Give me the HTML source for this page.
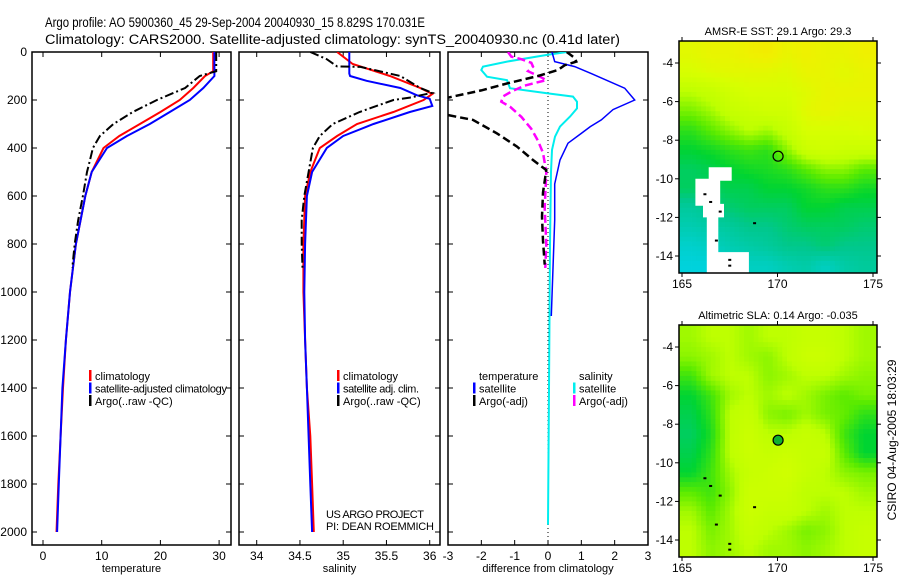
<!DOCTYPE html>
<html><head><meta charset="utf-8"><style>
html,body{margin:0;padding:0;background:#fff;}
svg{display:block;font-family:"Liberation Sans",sans-serif;}
</style></head><body>
<svg id="fig" width="900" height="580" viewBox="0 0 900 580" xmlns="http://www.w3.org/2000/svg">
<text x="45" y="27" font-size="13.5" textLength="380" lengthAdjust="spacingAndGlyphs">Argo profile: AO 5900360_45 29-Sep-2004 20040930_15 8.829S 170.031E</text>
<text x="45" y="44" font-size="13.5" textLength="575" lengthAdjust="spacingAndGlyphs">Climatology: CARS2000. Satellite-adjusted climatology: synTS_20040930.nc (0.41d later)</text>
<g id="g"></g>
</svg>
<script>
// ---------- data ----------
const tClimDepth=[0,80,100,150,200,250,300,350,400,500,600,800,1000,1200,1400,1600,1800,2000];
const tClimVal=[29.0,29.0,27.6,25.6,23.3,20.0,16.5,13.0,10.3,8.3,7.2,5.6,4.6,3.9,3.4,3.0,2.6,2.3];
const tSatDepth=[0,100,150,200,250,300,350,400,500,600,800,1000,1200,1400,1600,1800,2000];
const tSatVal=[29.2,29.2,27.3,25.0,21.6,18.2,14.3,10.9,8.3,7.2,5.6,4.6,3.9,3.3,3.0,2.7,2.4];
const tArgoDepth=[0,80,100,150,200,250,300,350,400,450,500,600,700,800,900];
const tArgoVal=[29.5,29.5,26.7,24.2,19.4,15.3,12.0,9.7,8.5,8.0,7.5,6.8,6.0,5.4,5.0];

const sClimDepth=[0,50,100,150,175,200,250,300,350,400,500,600,800,1000,1200,1400,1600,1800,2000];
const sClimVal=[34.93,35.11,35.54,35.89,36.03,35.93,35.58,35.16,34.93,34.73,34.62,34.56,34.54,34.54,34.56,34.58,34.62,34.64,34.66];
const sSatDepth=[0,90,100,120,150,180,195,225,250,300,350,400,500,600,800,1000,1200,1400,1600,1800,2000];
const sSatVal=[35.07,35.07,35.08,35.27,35.66,35.85,36.0,36.03,35.77,35.35,35.0,34.81,34.64,34.58,34.56,34.55,34.56,34.58,34.6,34.62,34.64];
const sArgoDepth=[0,30,60,62,100,150,170,190,200,250,300,350,400,500,600,700,800,900];
const sArgoVal=[34.62,34.81,34.93,35.2,35.66,35.89,36.03,35.77,35.58,35.19,34.88,34.73,34.65,34.6,34.55,34.52,34.52,34.53];

const dTSatDepth=[0,40,61,90,151,200,240,283,311,339,380,450,550,700,900,1100];
const dTSatVal=[0.12,0.2,0.8,1.3,2.3,2.6,1.95,1.6,1.27,1.0,0.6,0.36,0.2,0.2,0.15,0.1];
const dTArgoDepth=[0,25,40,55,75,100,130,160,190,230,263,283,339,394,450,492,586,686,786,886];
const dTArgoVal=[0.56,0.8,0.85,0.5,0.3,-0.3,-1.2,-2.0,-3.0,-3.4,-3.0,-2.25,-1.53,-0.93,-0.45,-0.05,-0.15,-0.18,-0.15,-0.1];
const dSSatDepth=[0,12,40,61,75,103,117,151,172,186,207,235,269,311,353,408,500,800,1400,1970];
const dSSatVal=[0.57,-0.03,-1.23,-1.95,-2.0,-1.83,-1.23,-1.14,-0.03,0.75,0.87,0.87,0.66,0.36,0.21,0.12,0.09,0.06,0.03,0.0];
const dSArgoDepth=[0,19,30,45,61,80,103,117,140,165,185,207,228,270,320,370,420,500,650,800,900];
const dSArgoVal=[-1.2,-1.1,-0.8,-0.5,-0.45,-0.6,-0.24,-0.05,-0.7,-1.1,-1.35,-1.4,-1.14,-0.8,-0.5,-0.3,-0.15,-0.05,-0.1,-0.05,-0.08];

const depthTicks=[0,200,400,600,800,1000,1200,1400,1600,1800,2000];
const tTicks=[0,10,20,30];
const sTicks=[34,34.5,35,35.5,36];
const sTickLabels=["34","34.5","35","35.5","36"];
const dTicks=[-3,-2,-1,0,1,2,3];

const sstGrid=[
[0.88,0.9,0.9,0.92,0.93,0.9,0.92,0.9,0.9,0.92],
[0.85,0.87,0.88,0.88,0.88,0.87,0.9,0.9,0.88,0.9],
[0.75,0.78,0.82,0.85,0.85,0.85,0.87,0.9,0.9,0.9],
[0.68,0.72,0.78,0.8,0.82,0.82,0.88,0.9,0.88,0.88],
[0.6,0.65,0.7,0.75,0.72,0.78,0.85,0.85,0.85,0.86],
[0.55,0.57,0.6,0.62,0.6,0.7,0.8,0.82,0.8,0.8],
[0.5,0.52,0.55,0.57,0.58,0.6,0.65,0.7,0.7,0.65],
[0.5,0.5,0.52,0.52,0.55,0.55,0.57,0.6,0.6,0.57],
[0.42,0.45,0.48,0.5,0.5,0.5,0.55,0.55,0.52,0.52],
[0.38,0.4,0.42,0.45,0.45,0.48,0.5,0.5,0.5,0.48],
[0.33,0.35,0.38,0.4,0.42,0.45,0.45,0.48,0.45,0.45],
[0.3,0.3,0.33,0.35,0.35,0.38,0.4,0.35,0.4,0.42]];
const slaGrid=[
[0.72,0.75,0.75,0.72,0.75,0.75,0.78,0.78,0.75,0.72],
[0.7,0.72,0.75,0.72,0.7,0.75,0.8,0.8,0.75,0.72],
[0.62,0.72,0.75,0.75,0.7,0.72,0.75,0.75,0.72,0.7],
[0.55,0.62,0.72,0.75,0.72,0.75,0.72,0.68,0.65,0.68],
[0.52,0.6,0.75,0.78,0.7,0.68,0.72,0.68,0.66,0.6],
[0.5,0.58,0.75,0.8,0.75,0.75,0.78,0.75,0.62,0.55],
[0.52,0.6,0.75,0.8,0.78,0.8,0.78,0.78,0.65,0.55],
[0.55,0.62,0.72,0.78,0.8,0.82,0.78,0.75,0.7,0.68],
[0.65,0.62,0.7,0.8,0.8,0.8,0.75,0.75,0.75,0.72],
[0.72,0.65,0.72,0.8,0.78,0.78,0.75,0.72,0.75,0.75],
[0.75,0.68,0.72,0.78,0.75,0.72,0.68,0.7,0.75,0.78],
[0.75,0.7,0.72,0.75,0.72,0.72,0.7,0.72,0.75,0.78]];
const lonTicks=[165,170,175];
const latTicks=[-4,-6,-8,-10,-12,-14];
const floatLon=170.031, floatLat=-8.829;

// ---------- helpers ----------
const NS="http://www.w3.org/2000/svg";
const G=document.getElementById('g');
function mk(tag,attrs,parent){const e=document.createElementNS(NS,tag);for(const k in attrs)e.setAttribute(k,attrs[k]);(parent||G).appendChild(e);return e;}
const PT=52, PB=545;
const yD=d=>52+0.24*d;
const panels=[
 {name:'temperature',x0:32,x1:231,fx:v=>43+5.87*v,ticks:tTicks,labels:tTicks.map(String),xl:'temperature',ylab:true},
 {name:'salinity',x0:239,x1:440,fx:v=>256.7+86.5*(v-34),ticks:sTicks,labels:sTickLabels,xl:'salinity',ylab:false},
 {name:'difference',x0:448,x1:648,fx:v=>548+33.33*v,ticks:dTicks,labels:dTicks.map(String),xl:'difference from climatology',ylab:false}
];
panels.forEach(p=>{
  const a=mk('g',{});
  
  
  const fr=mk('rect',{x:p.x0,y:PT,width:p.x1-p.x0,height:PB-PT,fill:'none',stroke:'#000','stroke-width':1.5},a);
  
  
  depthTicks.forEach(d=>{
    const y=yD(d);
    mk('line',{x1:p.x0,x2:p.x0+5,y1:y,y2:y,stroke:'#000'},a);
    mk('line',{x1:p.x1-5,x2:p.x1,y1:y,y2:y,stroke:'#000'},a);
    if(p.ylab){const t=mk('text',{x:27,y:y+4,'font-size':12,'text-anchor':'end'},a);t.textContent=d;
      
      }
  });
  p.ticks.forEach((v,i)=>{
    const x=p.fx(v);
    if(x>p.x0+1&&x<p.x1-1){
      mk('line',{x1:x,x2:x,y1:PB,y2:PB-5,stroke:'#000'},a);
      mk('line',{x1:x,x2:x,y1:PT,y2:PT+5,stroke:'#000'},a);}
    const t=mk('text',{x:x,y:560,'font-size':12,'text-anchor':'middle'},a);t.textContent=p.labels[i];
    
    
  });
  const xl=mk('text',{x:(p.x0+p.x1)/2,y:572,'font-size':11,'text-anchor':'middle'},a);xl.textContent=p.xl;
  
  
  const cp=mk('clipPath',{id:'clip-'+p.name},a);
  mk('rect',{x:p.x0,y:PT,width:p.x1-p.x0,height:PB-PT},cp);
  p.clip='url(#clip-'+p.name+')';
});
function curve(p,depths,vals,color,dash,w,name){
  const pts=depths.map((d,i)=>p.fx(vals[i]).toFixed(1)+','+yD(d).toFixed(1)).join(' ');
  const e=mk('polyline',{points:pts,fill:'none',stroke:color,'stroke-width':w,'clip-path':p.clip});
  if(dash)e.setAttribute('stroke-dasharray',dash);
  
  
}
const [PTm,PSa,PDi]=panels;
curve(PTm,tClimDepth,tClimVal,'#f00',null,2,'temperature-climatology-line');
curve(PTm,tSatDepth,tSatVal,'#00f',null,2,'temperature-satellite-line');
curve(PTm,tArgoDepth,tArgoVal,'#000','9,3,2,3',2,'temperature-argo-line');
curve(PSa,sClimDepth,sClimVal,'#f00',null,2,'salinity-climatology-line');
curve(PSa,sSatDepth,sSatVal,'#00f',null,2,'salinity-satellite-line');
curve(PSa,sArgoDepth,sArgoVal,'#000','9,3,2,3',2,'salinity-argo-line');
const zl=mk('line',{x1:PDi.fx(0),x2:PDi.fx(0),y1:PT,y2:PB-8,stroke:'#000','stroke-dasharray':'1,3'});


curve(PDi,dSSatDepth,dSSatVal,'#0ee',null,2,'salinity-satellite-diff-line');
curve(PDi,dSArgoDepth,dSArgoVal,'#f0f','8,4',2.5,'salinity-argo-diff-line');
curve(PDi,dTSatDepth,dTSatVal,'#00f',null,1.5,'temperature-satellite-diff-line');
curve(PDi,dTArgoDepth,dTArgoVal,'#000','8,4',2.5,'temperature-argo-diff-line');

// legends
function legend(x,y,items,name){
  const lg=mk('g',{});
  
  
  items.forEach((it,i)=>{
    const yy=y+i*12.5;
    if(it[1])mk('rect',{x:x,y:yy-10,width:2.5,height:11,fill:it[1]},lg);
    const t=mk('text',{x:x+6,y:yy,'font-size':11},lg);t.textContent=it[0];
    if(it[2])t.setAttribute('textLength',it[2]);
  });
}
legend(89,380,[['climatology','#f00'],['satellite-adjusted climatology','#00f',132],['Argo(..raw -QC)','#000']],'temperature-legend');
legend(337,380,[['climatology','#f00'],['satellite adj. clim.','#00f',76],['Argo(..raw -QC)','#000']],'salinity-legend');
legend(473,380,[['temperature',null],['satellite','#00f'],['Argo(-adj)','#000']],'diff-temperature-legend');
legend(573,380,[['salinity',null],['satellite','#0ee'],['Argo(-adj)','#f0f']],'diff-salinity-legend');
const cr1=mk('text',{x:326,y:518,'font-size':11,textLength:98});cr1.textContent='US ARGO PROJECT';


const cr2=mk('text',{x:326,y:530,'font-size':11,textLength:108});cr2.textContent='PI: DEAN ROEMMICH';



// ---------- maps ----------
const stops=[[0,[0,0,160]],[0.15,[0,96,255]],[0.3,[0,210,220]],[0.45,[0,200,140]],[0.55,[0,212,50]],[0.65,[90,235,0]],[0.75,[190,255,0]],[0.85,[215,255,0]],[0.92,[240,240,0]],[1,[255,200,0]]];
function cmap(v){v=Math.max(0,Math.min(1,v));for(let i=1;i<stops.length;i++){if(v<=stops[i][0]){const a=stops[i-1],b=stops[i],f=(v-a[0])/(b[0]-a[0]);const c=a[1].map((x,k)=>Math.round(x+(b[1][k]-x)*f));return 'rgb('+c.join(',')+')';}}return 'rgb(255,200,0)';}
function sample(grid,lon,lat){
  let cx=lon-165-0.5, ry=-3-lat-0.5;
  cx=Math.max(0,Math.min(9,cx)); ry=Math.max(0,Math.min(11,ry));
  const c0=Math.floor(cx),r0=Math.floor(ry),c1=Math.min(9,c0+1),r1=Math.min(11,r0+1),fx=cx-c0,fy=ry-r0;
  return grid[r0][c0]*(1-fx)*(1-fy)+grid[r0][c1]*fx*(1-fy)+grid[r1][c0]*(1-fx)*fy+grid[r1][c1]*fx*fy;
}
function drawMap(name,grid,top,bottom,title,filled,whiteLand){
  const x0=679,x1=877;
  const lonX=l=>682+19.1*(l-165);
  const latY=l=>top+22+(bottom-top-39)/10*(-4-l);
  const mg=mk('g',{});
  
  
  const step=0.25;
  for(let lat=-2.75;lat>-15.25;lat-=step){
    for(let lon=164.75;lon<175.25;lon+=step){
      const v=sample(grid,lon+step/2,lat-step/2);
      const xa=Math.max(x0,lonX(lon)),xb=Math.min(x1,lonX(lon+step));
      const ya=Math.max(top,latY(lat)),yb=Math.min(bottom,latY(lat-step));
      if(xb<=xa||yb<=ya)continue;
      mk('rect',{x:xa.toFixed(2),y:ya.toFixed(2),width:(xb-xa+0.4).toFixed(2),height:(yb-ya+0.4).toFixed(2),fill:cmap(v)},mg);
    }
  }
  if(whiteLand){
    const poly=[[165.7,-10.0],[166.4,-10.0],[166.4,-9.4],[167.6,-9.4],[167.6,-10.1],[167,-10.1],[167,-11.3],[167.2,-11.3],[167.2,-12],[166.9,-12],[166.9,-13.8],[168.5,-13.8],[168.5,-15.1],[166.3,-15.1],[166.3,-12.0],[166.1,-12],[166.1,-11.4],[165.7,-11.4]];
    const lw=mk('polygon',{points:poly.map(p=>lonX(p[0]).toFixed(1)+','+latY(p[1]).toFixed(1)).join(' '),fill:'#fff'},mg);
    
    
  }
  [[166.2,-10.8],[166.5,-11.2],[167,-11.7],[166.8,-13.2],[167.5,-14.2],[167.5,-14.5],[168.8,-12.3]].forEach(p=>{
    mk('rect',{x:lonX(p[0])-1.5,y:latY(p[1])-1,width:3,height:2,fill:'#000'},mg);});
  mk('rect',{x:x0,y:top,width:x1-x0,height:bottom-top,fill:'none',stroke:'#000','stroke-width':1.5},mg);
  lonTicks.forEach(l=>{const x=lonX(l);
    mk('line',{x1:x,x2:x,y1:bottom,y2:bottom+4,stroke:'#000'},mg);
    mk('line',{x1:x,x2:x,y1:top,y2:top-4,stroke:'#000'},mg);
    const t=mk('text',{x:x,y:bottom+15,'font-size':12,'text-anchor':'middle'},mg);t.textContent=l;
    
    });
  latTicks.forEach(l=>{const y=latY(l);
    mk('line',{x1:x0-4,x2:x0,y1:y,y2:y,stroke:'#000'},mg);
    mk('line',{x1:x1,x2:x1+4,y1:y,y2:y,stroke:'#000'},mg);
    const t=mk('text',{x:x0-6,y:y+4,'font-size':12,'text-anchor':'end'},mg);t.textContent=l;
    
    });
  const tt=mk('text',{x:(x0+x1)/2,y:top-6,'font-size':11,'text-anchor':'middle'},mg);tt.textContent=title;
  
  
  const c=mk('circle',{cx:lonX(floatLon),cy:latY(floatLat),r:5,fill:filled?'#10b030':'none',stroke:'#000','stroke-width':1.2},mg);
  
  
}
drawMap('sst-map',sstGrid,41,273,'AMSR-E SST: 29.1 Argo: 29.3',false,true);
drawMap('sla-map',slaGrid,325,557,'Altimetric SLA: 0.14 Argo: -0.035',true,false);
const ts=mk('text',{x:0,y:0,'font-size':12,'text-anchor':'middle',transform:'translate(896,440) rotate(-90)'});
ts.textContent='CSIRO 04-Aug-2005 18:03:29';


</script>
</body></html>
